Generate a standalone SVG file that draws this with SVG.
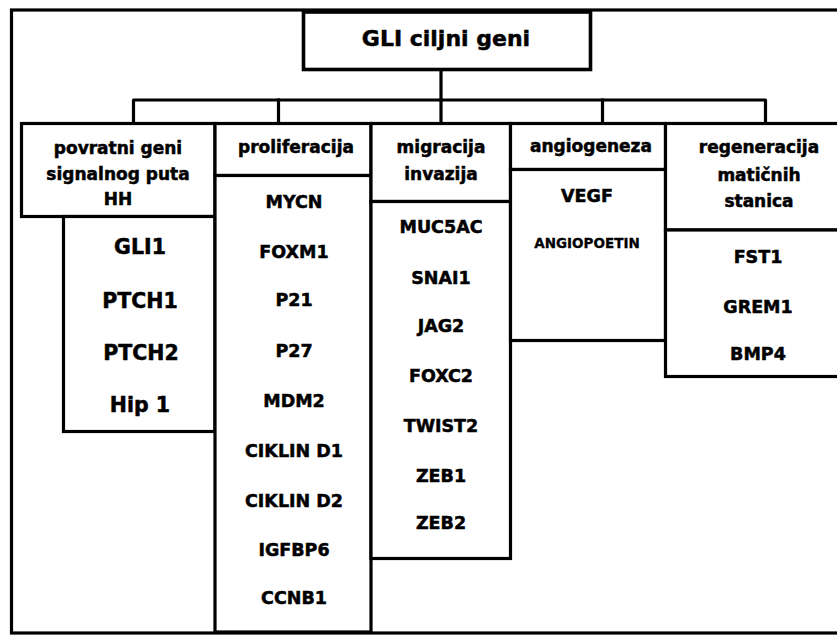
<svg xmlns="http://www.w3.org/2000/svg" width="837" height="635" viewBox="0 0 837 635">
<style>
.box{fill:#fff;stroke:#000;stroke-width:3.2}
.frame{fill:#fff;stroke:#000;stroke-width:3.2}
.con{fill:none;stroke:#000;stroke-width:3.2;stroke-linejoin:round;stroke-linecap:square}
text{font-family:"DejaVu Sans",Verdana,sans-serif;font-weight:bold;fill:#000;stroke:#000;stroke-width:0.5;text-anchor:middle}
.title{font-size:22px}
.hd{font-size:17px}
.g1{font-size:20.5px}
.g{font-size:17.5px}
.sm{font-size:13.5px;stroke-width:0.3}
</style>
<rect class="frame" x="11.5" y="10" width="900" height="623"/>
<g id="connectors">
<path class="con" d="M441 70 V100"/>
<path class="con" d="M133.5 123 V100 H765.5 V123"/>
<path class="con" d="M278.5 100 V123"/>
<path class="con" d="M441 100 V123"/>
<path class="con" d="M602.5 100 V123"/>
</g>
<g id="title">
<rect class="box" x="303.5" y="12" width="287" height="57.5" style="stroke-width:3.6"/>
<text class="title" x="446" y="46">GLI ciljni geni</text>
</g>
<g id="povratni">
<rect class="box" x="21.5" y="123.5" width="193.5" height="93"/>
<rect class="box" x="63.5" y="216.5" width="151.5" height="215"/>
<text class="hd" x="118" y="154">povratni geni</text>
<text class="hd" x="118" y="180">signalnog puta</text>
<text class="hd" x="118" y="205">HH</text>
<text class="g1" x="140" y="254">GLI1</text>
<text class="g1" x="140" y="308">PTCH1</text>
<text class="g1" x="141" y="360">PTCH2</text>
<text class="g1" x="140" y="412">Hip 1</text>
</g>
<g id="proliferacija">
<rect class="box" x="215" y="123.5" width="156" height="52"/>
<rect class="box" x="215" y="175.5" width="156" height="456.5"/>
<text class="hd" x="296" y="153">proliferacija</text>
<text class="g" x="294" y="208">MYCN</text>
<text class="g" x="294" y="258">FOXM1</text>
<text class="g" x="294" y="306">P21</text>
<text class="g" x="294" y="357">P27</text>
<text class="g" x="294" y="407">MDM2</text>
<text class="g" x="294" y="457">CIKLIN D1</text>
<text class="g" x="294" y="507">CIKLIN D2</text>
<text class="g" x="294" y="556">IGFBP6</text>
<text class="g" x="294" y="604">CCNB1</text>
</g>
<g id="migracija">
<rect class="box" x="371" y="123.5" width="139.5" height="78"/>
<rect class="box" x="371" y="201.5" width="139.5" height="357"/>
<text class="hd" x="441" y="153">migracija</text>
<text class="hd" x="441" y="180">invazija</text>
<text class="g" x="441" y="233">MUC5AC</text>
<text class="g" x="441" y="284">SNAI1</text>
<text class="g" x="441" y="332">JAG2</text>
<text class="g" x="441" y="382">FOXC2</text>
<text class="g" x="441" y="432">TWIST2</text>
<text class="g" x="441" y="482">ZEB1</text>
<text class="g" x="441" y="529">ZEB2</text>
</g>
<g id="angiogeneza">
<rect class="box" x="510.5" y="123.5" width="155" height="46"/>
<rect class="box" x="510.5" y="169.5" width="155" height="171"/>
<text class="hd" x="591" y="152">angiogeneza</text>
<text class="g" x="587" y="202">VEGF</text>
<text class="sm" x="587" y="248">ANGIOPOETIN</text>
</g>
<g id="regeneracija">
<rect class="box" x="665.5" y="123.5" width="190" height="106.5"/>
<rect class="box" x="665.5" y="230" width="190" height="146.5"/>
<text class="hd" x="759" y="153">regeneracija</text>
<text class="hd" x="759" y="181">matičnih</text>
<text class="hd" x="759" y="207">stanica</text>
<text class="g" x="758" y="263">FST1</text>
<text class="g" x="758" y="313">GREM1</text>
<text class="g" x="758" y="360">BMP4</text>
</g>
</svg>
